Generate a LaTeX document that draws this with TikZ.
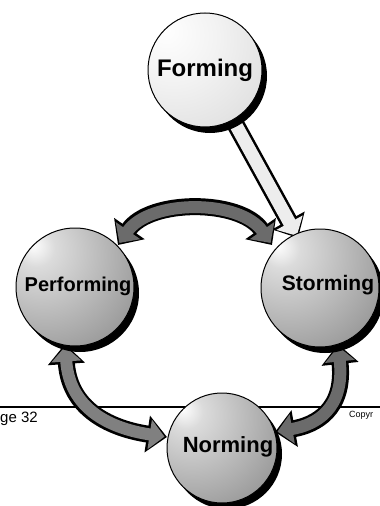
\documentclass[tikz,border=0pt]{standalone}
\usepackage{fontspec}
\setmainfont{Liberation Sans}
\usetikzlibrary{arrows.meta}
\pgfdeclareradialshading{sphA}{\pgfpoint{-18bp}{18bp}}{color(0bp)=(white); color(8bp)=(black!14); color(35bp)=(black!35); color(60bp)=(black!55); color(100bp)=(black!60)}
\pgfdeclareradialshading{sphB}{\pgfpoint{-18bp}{18bp}}{color(0bp)=(white); color(20bp)=(black!5); color(45bp)=(black!13); color(65bp)=(black!25); color(100bp)=(black!27)}
\tikzset{
  ball/.style={circle, draw=black, line width=1pt, inner sep=0pt, shading=sphA, minimum size=#1, font=\bfseries\fontsize{21}{21}\selectfont},
  shadowfill/.style={fill=black},
  arrout/.style={draw=black, line width=17pt, {Triangle[length=20pt,width=36pt]}-{Triangle[length=20pt,width=36pt]}},
  arrin/.style={draw=#1, line width=12pt, shorten <=2.5pt, shorten >=2.5pt, {Triangle[length=15pt,width=29pt]}-{Triangle[length=15pt,width=29pt]}},
  sarrout/.style={draw=black, line width=18pt, -{Triangle[length=20pt,width=36pt]}},
  sarrin/.style={draw=black!7, line width=13pt, shorten >=2.5pt, -{Triangle[length=15pt,width=29pt]}},
  footer/.style={font=\fontsize{15}{15}\selectfont, inner sep=0pt}
}
\begin{document}
\begin{tikzpicture}[x=1pt,y=-1pt]
\useasboundingbox (0,0) rectangle (380,506);
\fill[white] (0,0) rectangle (380,506);
% footer line and texts
\draw[line width=1.5pt] (0,407) -- (380,407);
\node[footer, anchor=west] (pg) at (0,419) {ge 32};
\node[footer, font=\fontsize{9}{9}\selectfont, anchor=west] (cp) at (349,415) {Copyr};
% coordinates for arrows
\coordinate (fs1) at (232,118);
\coordinate (fs2) at (298,238);
\coordinate (t1) at (118,245);
\coordinate (t2) at (272,245);
\coordinate (l1) at (65,344);
\coordinate (l2) at (167,437);
\coordinate (r1) at (338,344);
\coordinate (r2) at (275,432);
% arrows
\draw[sarrout] (fs1) -- (fs2);
\draw[sarrin] (fs1) -- (fs2);
\draw[arrout] (t1) .. controls (150,199) and (240,199) .. (t2);
\draw[arrin=black!58] (t1) .. controls (150,199) and (240,199) .. (t2);
\draw[arrout] (l1) .. controls (70,415) and (120,430) .. (l2);
\draw[arrin=black!50] (l1) .. controls (70,415) and (120,430) .. (l2);
\draw[arrout] (r1) .. controls (345,410) and (315,425) .. (r2);
\draw[arrin=black!58] (r1) .. controls (345,410) and (315,425) .. (r2);
% shadows
\fill[shadowfill] (210,76) circle[radius=57pt];
\fill[shadowfill] (80,293) circle[radius=59pt];
\fill[shadowfill] (325,294) circle[radius=59pt];
\fill[shadowfill] (227,454) circle[radius=55pt];
% spheres
\node[ball=114pt, shading=sphB, font=\bfseries\fontsize{24}{24}\selectfont] (forming) at (205,70) {Forming};
\node[ball=118pt] (performing) at (75,287) {};
\node[ball=118pt] (storming) at (320,288) {};
\node[ball=110pt] (norming) at (222,448) {};
\node[font=\bfseries\fontsize{20}{20}\selectfont] (ptxt) at (78,286) {Performing};
\node[font=\bfseries\fontsize{21}{21}\selectfont] (stxt) at (328,285) {Storming};
\node[font=\bfseries\fontsize{22}{22}\selectfont] (ntxt) at (228,447) {Norming};
\end{tikzpicture}
\end{document}
